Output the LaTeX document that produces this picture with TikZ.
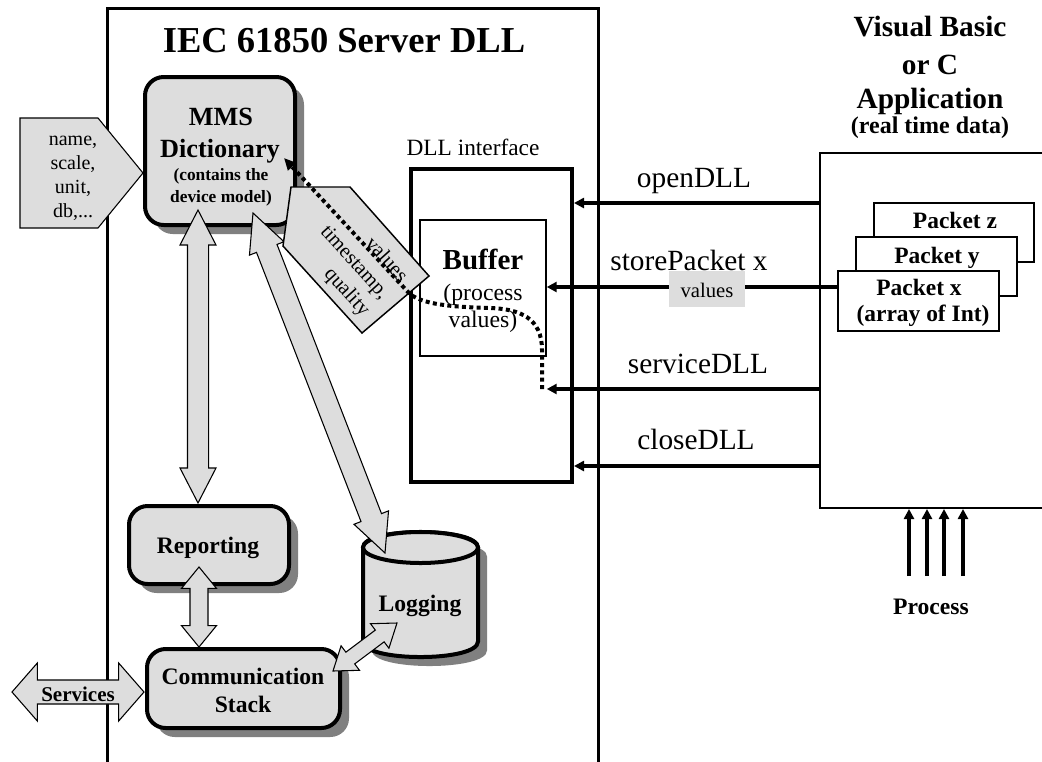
\documentclass[tikz,border=0pt]{standalone}
\usepackage{fontspec}
\setmainfont{Liberation Serif}
\usetikzlibrary{fit,calc,arrows.meta}
\definecolor{boxgray}{RGB}{221,221,221}
\definecolor{shadowgray}{RGB}{128,128,128}
\newcommand\fsz[1]{\fontsize{#1}{#1}\selectfont}
% double-headed block arrow: [options]{from}{to}{shaft half width}{head half width}{head length}
\newcommand\dblarrow[6][]{%
  \coordinate (ha) at ($(#2)!#6!(#3)$);
  \coordinate (hb) at ($(#3)!#6!(#2)$);
  \draw[blockarr,#1] (#2) -- ($(ha)!#5!90:(#3)$) -- ($(ha)!#4!90:(#3)$)
    -- ($(hb)!#4!-90:(#2)$) -- ($(hb)!#5!-90:(#2)$) -- (#3)
    -- ($(hb)!#5!90:(#2)$) -- ($(hb)!#4!90:(#2)$)
    -- ($(ha)!#4!-90:(#3)$) -- ($(ha)!#5!-90:(#3)$) -- cycle;
}
\tikzset{
  frameline/.style={line width=2pt},
  rbox/.style={draw, line width=3pt, rounded corners=14pt, fill=boxgray, inner sep=0pt,
    preaction={fill=shadowgray, draw=none, transform canvas={shift={(6.75pt,-6.75pt)}}}},
  blockarr/.style={draw, line width=0.8pt, fill=boxgray, line join=miter},
  call/.style={line width=2.5pt, -{Triangle[length=7.5pt,width=7.5pt]}},
  lbl/.style={anchor=base, inner sep=0pt},
  packet/.style={draw, line width=1.5pt, fill=white, inner sep=0pt},
  dots/.style={line width=3pt, dash pattern=on 3pt off 2.5pt, -{Triangle[length=9pt,width=8pt]}},
  bigb/.style={font=\bfseries\fsz{17.7}},
}
\begin{document}
\begin{tikzpicture}[x=0.75pt,y=-0.75pt]
\useasboundingbox (0,0) rectangle (1042,761);

% ---------- server DLL frame ----------
\node[fit={(108,9) (598,775)}, inner sep=0pt] (srv) {};
\draw[frameline] (srv.south west) |- (srv.north east) -- (srv.south east);
\node[lbl, font=\bfseries\fsz{27.4}] (srvt) at (344,52) {IEC 61850 Server DLL};

% ---------- rounded function boxes ----------
\node[rbox, fit={(145,77) (295,225)}] (mms) {};
\node[rbox, fit={(129,506) (289,584)}] (rep) {};
\node[rbox, fit={(147,649) (340,728)}] (com) {};

% ---------- logging cylinder ----------
\begin{scope}[shift={(9,9)}]
  \fill[shadowgray] (363,641.5) .. controls (363,662.2) and (478,662.2) .. (478,641.5)
    -- (478,547.5) .. controls (478,526.8) and (363,526.8) .. (363,547.5) -- cycle;
\end{scope}
\draw[line width=3pt, fill=boxgray] (363,641.5) .. controls (363,662.2) and (478,662.2) .. (478,641.5)
    -- (478,547.5) .. controls (478,526.8) and (363,526.8) .. (363,547.5) -- cycle;
\draw[line width=3pt, fill=boxgray] (420.5,547.5) ellipse [x radius=43.125pt, y radius=11.625pt];
\node[fit={(363,532) (478,657)}, inner sep=0pt] (logc) {};

% ---------- parameter tag pointing into the dictionary ----------
\draw[line width=0.8pt, fill=boxgray] (20,118) -- (98,118) -- (143,173) -- (98,228) -- (20,228) -- cycle;
\node[lbl, font=\fsz{15}] (nm1) at (73,145) {name,};
\node[lbl, font=\fsz{15}] (nm2) at (73,169) {scale,};
\node[lbl, font=\fsz{15}] (nm3) at (73,193) {unit,};
\node[lbl, font=\fsz{15}] (nm4) at (73,217) {db,...};

% ---------- block arrows ----------
\coordinate (a1) at (198,210);  \coordinate (a2) at (198,503);
\coordinate (b1) at (253,213);  \coordinate (b2) at (385,553);
\coordinate (c1) at (199,567);  \coordinate (c2) at (199,647);
\coordinate (d1) at (333,671);  \coordinate (d2) at (397,623);
\coordinate (e1) at (12,692);   \coordinate (e2) at (144,692);
\dblarrow{a1}{a2}{7.9pt}{13.5pt}{26.25pt}
\dblarrow{b1}{b2}{8.25pt}{13.9pt}{28.5pt}
\dblarrow{c1}{c2}{6.75pt}{13.1pt}{16pt}
\dblarrow{d1}{d2}{5.5pt}{11.5pt}{16.2pt}
\dblarrow{e1}{e2}{9pt}{21.75pt}{19pt}

% ---------- DLL interface and buffer ----------
\node[lbl, font=\fsz{17.5}] (dllt) at (473,155) {DLL interface};
\node[draw, line width=3pt, inner sep=0pt, fit={(411,169) (572,482)}] (dll) {};
\node[draw, line width=1.1pt, inner sep=0pt, fit={(420,220) (546,356)}] (buf) {};

% ---------- application side ----------
\node[lbl, font=\bfseries\fsz{22}] (ap1) at (930,36) {Visual Basic};
\node[lbl, font=\bfseries\fsz{22}] (ap2) at (930,74) {or C};
\node[lbl, font=\bfseries\fsz{22}] (ap3) at (930,108) {Application};
\node[lbl, font=\bfseries\fsz{18}] (ap4) at (930,133) {(real time data)};
\node[draw, line width=1.5pt, inner sep=0pt, fit={(820,153) (1055,508)}] (app) {};

\node[packet, fit={(874,203) (1034,262)}] (pz) {};
\node[lbl, font=\bfseries\fsz{17.6}] (pzl) at (955,228) {Packet z};
\node[packet, fit={(856,237) (1017,296)}] (py) {};
\node[lbl, font=\bfseries\fsz{17.6}] (pyl) at (937,263) {Packet y};
\node[packet, fit={(838,271) (999,331)}] (px) {};
\node[lbl, font=\bfseries\fsz{17.6}] (pxl) at (919,295) {Packet x};
\node[lbl, font=\bfseries\fsz{17.6}] (pxs) at (923,321) {(array of Int)};

% ---------- DLL calls ----------
\coordinate (yopen) at (0,203);
\coordinate (ystore) at (0,287);
\coordinate (yserv) at (0,389);
\coordinate (yclose) at (0,466);
\draw[call] (app.west |- yopen) -- (dll.east |- yopen);
\draw[call] (px.west |- ystore) -- (buf.east |- ystore);
\draw[call] (app.west |- yserv) -- (buf.east |- yserv);
\draw[call] (app.west |- yclose) -- (dll.east |- yclose);
\node[lbl, font=\fsz{22}] (opt) at (694,187) {openDLL};
\node[lbl, font=\fsz{22}] (stt) at (689,270) {storePacket x};
\node[lbl, font=\fsz{22}] (svt) at (698,373) {serviceDLL};
\node[lbl, font=\fsz{22}] (clt) at (696,449) {closeDLL};
\node[fill=boxgray, minimum width=57pt, minimum height=27pt, inner sep=0pt] (valbox) at (707,289) {};
\node[lbl, font=\fsz{15.5}] (valt) at (707,297) {values};

% ---------- process inputs ----------
\foreach \x [count=\i] in {909,927,944,963} {
  \coordinate (pr\i) at (\x,576);
  \draw[call, line width=2.3pt] (pr\i) -- (pr\i |- app.south);
}
\node[lbl, bigb] (prt) at (931,614) {Process};

% ---------- values / timestamp / quality tag ----------
\draw[line width=1.1pt, fill=boxgray] (291,187) -- (350,187) -- (429,276) -- (362,333) -- (283,246) -- cycle;
\node[font=\fontsize{15.5}{19}\selectfont, align=right, rotate=-48, inner sep=0pt] (vtq) at (354,263)
  {values\\timestamp,\\quality};

% ---------- data path from serviceDLL back to the dictionary ----------
\coordinate (dstart) at (542,389);
\coordinate (mmsdot) at (284,158);
\draw[dots] (dstart) -- (542,350) .. controls (542,318) and (520,309) .. (490,308)
  .. controls (455,307) and (420,305) .. (408,292) -- (mmsdot);

% ---------- box texts ----------
\node[lbl, font=\bfseries\fsz{19.7}] (mms1) at (221,125) {MMS};
\node[lbl, font=\bfseries\fsz{19.7}] (mms2) at (220,157) {Dictionary};
\node[lbl, font=\bfseries\fsz{13}] (mms3) at (221,180) {(contains the};
\node[lbl, font=\bfseries\fsz{13}] (mms4) at (221,202) {device model)};
\node[lbl, font=\bfseries\fsz{21.75}] (buf1) at (483,269) {Buffer};
\node[lbl, font=\fsz{17.8}] (buf2) at (483,300) {(process};
\node[lbl, font=\fsz{17.8}] (buf3) at (483,327) {values)};
\node[lbl, bigb] (rept) at (208,553) {Reporting};
\node[lbl, bigb] (com1) at (243,684) {Communication};
\node[lbl, bigb] (com2) at (243,712) {Stack};
\node[lbl, bigb] (logt) at (420,611) {Logging};
\node[lbl, font=\bfseries\fsz{15.75}] (svc) at (78,701) {Services};
\end{tikzpicture}
\end{document}
